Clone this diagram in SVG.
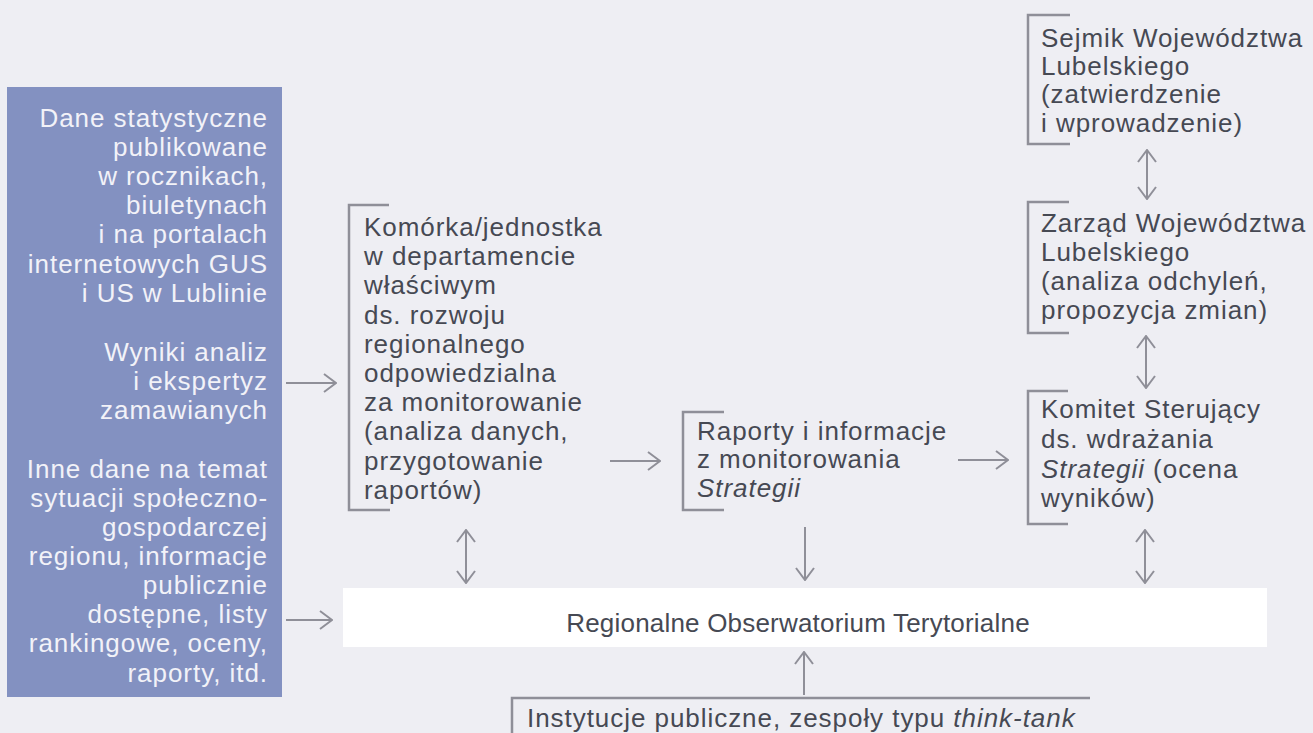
<svg xmlns="http://www.w3.org/2000/svg" width="1313" height="733" viewBox="0 0 1313 733">
<defs>
<style>
.t{font-family:"Liberation Sans",Arial,sans-serif;font-size:26px;fill:#464953;letter-spacing:0.95px}
.w{fill:#f2f2f8;text-anchor:end}
.br{fill:none;stroke:#8f8f98;stroke-width:2.5}
.ar{fill:none;stroke:#8f8f98;stroke-width:2}
.i{font-style:italic}
</style>
<marker id="ah" viewBox="0 0 14 20" refX="13" refY="10" markerWidth="14" markerHeight="20" orient="auto-start-reverse" markerUnits="userSpaceOnUse">
<path d="M1,1 L13,10 L1,19" fill="none" stroke="#8f8f98" stroke-width="2"/>
</marker>
</defs>
<rect width="1313" height="733" fill="#eeeef3"/>

<g id="sources">
<rect x="7" y="87" width="275" height="610" fill="#8391c1"/>
<text class="t w" x="268" y="127">Dane statystyczne</text>
<text class="t w" x="268" y="156">publikowane</text>
<text class="t w" x="268" y="185">w rocznikach,</text>
<text class="t w" x="268" y="214">biuletynach</text>
<text class="t w" x="268" y="243">i na portalach</text>
<text class="t w" x="268" y="273">internetowych GUS</text>
<text class="t w" x="268" y="302">i US w Lublinie</text>
<text class="t w" x="268" y="361">Wyniki analiz</text>
<text class="t w" x="268" y="390">i ekspertyz</text>
<text class="t w" x="268" y="419">zamawianych</text>
<text class="t w" x="268" y="478">Inne dane na temat</text>
<text class="t w" x="268" y="507">sytuacji społeczno-</text>
<text class="t w" x="268" y="536">gospodarczej</text>
<text class="t w" x="268" y="565">regionu, informacje</text>
<text class="t w" x="268" y="594">publicznie</text>
<text class="t w" x="268" y="623">dostępne, listy</text>
<text class="t w" x="268" y="652">rankingowe, oceny,</text>
<text class="t w" x="268" y="682">raporty, itd.</text>
</g>

<g id="komorka">
<path class="br" d="M389,205 H349 V510 H390"/>
<text class="t" x="364" y="236">Komórka/jednostka</text>
<text class="t" x="364" y="265">w departamencie</text>
<text class="t" x="364" y="294">właściwym</text>
<text class="t" x="364" y="324">ds. rozwoju</text>
<text class="t" x="364" y="353">regionalnego</text>
<text class="t" x="364" y="382">odpowiedzialna</text>
<text class="t" x="364" y="411">za monitorowanie</text>
<text class="t" x="364" y="440">(analiza danych,</text>
<text class="t" x="364" y="470">przygotowanie</text>
<text class="t" x="364" y="499">raportów)</text>
</g>

<g id="raporty">
<path class="br" d="M724,412 H683 V510 H724"/>
<text class="t" x="697" y="440">Raporty i informacje</text>
<text class="t" x="697" y="468">z monitorowania</text>
<text class="t i" x="697" y="497">Strategii</text>
</g>

<g id="sejmik">
<path class="br" d="M1070,15 H1028 V144 H1070"/>
<text class="t" x="1041" y="47">Sejmik Województwa</text>
<text class="t" x="1041" y="75">Lubelskiego</text>
<text class="t" x="1041" y="103">(zatwierdzenie</text>
<text class="t" x="1041" y="132">i wprowadzenie)</text>
</g>

<g id="zarzad">
<path class="br" d="M1069,202 H1028 V333 H1069"/>
<text class="t" x="1041" y="232">Zarząd Województwa</text>
<text class="t" x="1041" y="261">Lubelskiego</text>
<text class="t" x="1041" y="290">(analiza odchyleń,</text>
<text class="t" x="1041" y="319">propozycja zmian)</text>
</g>

<g id="komitet">
<path class="br" d="M1068,391 H1028 V524 H1068"/>
<text class="t" x="1041" y="418">Komitet Sterujący</text>
<text class="t" x="1041" y="448">ds. wdrażania</text>
<text class="t" x="1041" y="478"><tspan class="i">Strategii</tspan> (ocena</text>
<text class="t" x="1041" y="507">wyników)</text>
</g>

<g id="rot">
<rect x="343" y="588" width="924" height="59" fill="#ffffff"/>
<text class="t" x="798" y="632" text-anchor="middle" style="font-size:26px;letter-spacing:0.2px">Regionalne Obserwatorium Terytorialne</text>
</g>

<g id="instytucje">
<path class="br" d="M512,740 V698 H1090"/>
<text class="t" x="527" y="727">Instytucje publiczne, zespoły typu <tspan class="i">think-tank</tspan></text>
</g>

<g id="connectors">
<path class="ar" d="M286,383 H336" marker-end="url(#ah)"/>
<path class="ar" d="M286,620 H332" marker-end="url(#ah)"/>
<path class="ar" d="M610,461 H660" marker-end="url(#ah)"/>
<path class="ar" d="M958,460 H1008" marker-end="url(#ah)"/>
<path class="ar" d="M805,527 V580" marker-end="url(#ah)"/>
<path class="ar" d="M466,530 V583" marker-start="url(#ah)" marker-end="url(#ah)"/>
<path class="ar" d="M1145,530 V583" marker-start="url(#ah)" marker-end="url(#ah)"/>
<path class="ar" d="M1146,336 V388" marker-start="url(#ah)" marker-end="url(#ah)"/>
<path class="ar" d="M1147,150 V199" marker-start="url(#ah)" marker-end="url(#ah)"/>
<path class="ar" d="M804,695 V652" marker-end="url(#ah)"/>
</g>
</svg>
